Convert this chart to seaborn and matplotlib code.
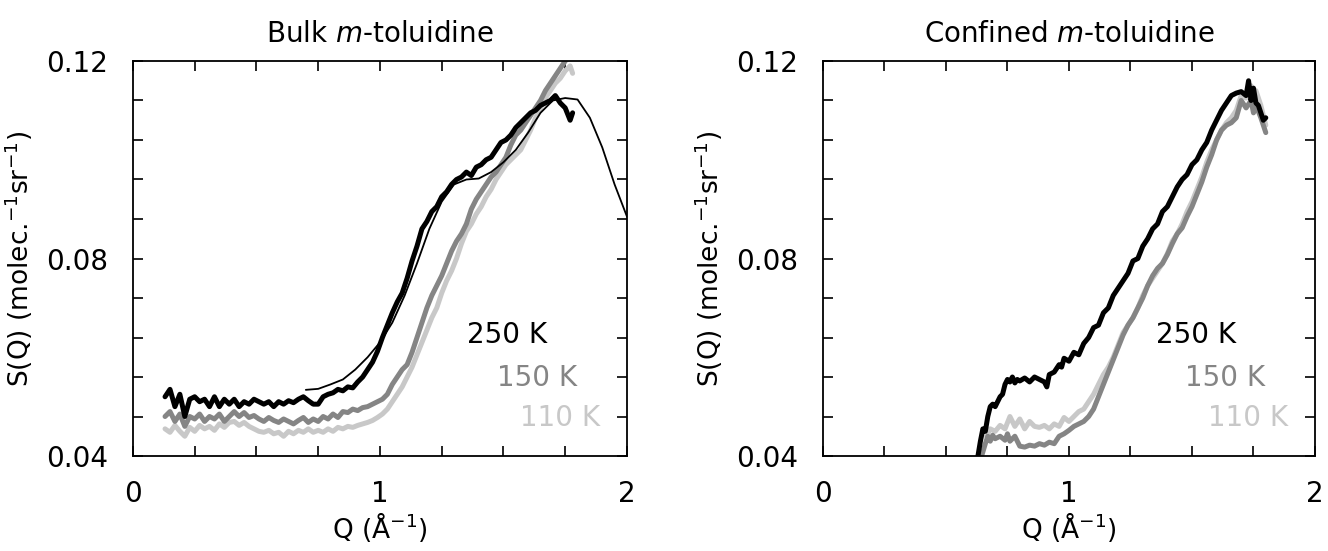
import numpy as np
import pandas as pd
import seaborn as sns
import matplotlib.pyplot as plt
from matplotlib.ticker import MultipleLocator

# ---- Bulk m-toluidine (left) ----
bulk_q_250 = [0.13, 0.15, 0.17, 0.19, 0.21, 0.23, 0.25, 0.27, 0.29, 0.31, 0.33, 0.35, 0.37, 0.39,
              0.41, 0.43, 0.45, 0.47, 0.49, 0.51, 0.53, 0.55, 0.57, 0.59, 0.61, 0.63, 0.65, 0.67,
              0.69, 0.71, 0.73, 0.75, 0.77, 0.79, 0.81, 0.83, 0.85, 0.87, 0.89, 0.91, 0.93, 0.95,
              0.97, 0.99, 1.01, 1.03, 1.05, 1.07, 1.09, 1.11, 1.13, 1.15, 1.17, 1.19, 1.21, 1.23,
              1.25, 1.27, 1.29, 1.31, 1.33, 1.35, 1.37, 1.39, 1.41, 1.43, 1.45, 1.47, 1.49, 1.51,
              1.53, 1.55, 1.57, 1.59, 1.61, 1.63, 1.65, 1.67, 1.69, 1.71, 1.73, 1.75, 1.77, 1.78]
bulk_s_250 = [0.0520, 0.0535, 0.0500, 0.0525, 0.0480, 0.0515, 0.0520, 0.0510, 0.0515, 0.0500,
              0.0520, 0.0500, 0.0515, 0.0505, 0.0515, 0.0500, 0.0510, 0.0505, 0.0515, 0.0510,
              0.0505, 0.0510, 0.0500, 0.0510, 0.0505, 0.0512, 0.0508, 0.0515, 0.0520, 0.0512,
              0.0505, 0.0505, 0.0520, 0.0525, 0.0528, 0.0535, 0.0532, 0.0540, 0.0538, 0.0550,
              0.0560, 0.0575, 0.0590, 0.0612, 0.0640, 0.0665, 0.0690, 0.0712, 0.0730, 0.0760,
              0.0795, 0.0825, 0.0860, 0.0875, 0.0895, 0.0905, 0.0925, 0.0935, 0.0950, 0.0960,
              0.0965, 0.0975, 0.0968, 0.0985, 0.0990, 0.1000, 0.1005, 0.1020, 0.1035, 0.1040,
              0.1050, 0.1065, 0.1075, 0.1085, 0.1095, 0.1100, 0.1110, 0.1115, 0.1120, 0.1130,
              0.1115, 0.1105, 0.1080, 0.1095]

bulk_q_fit = [0.70, 0.75, 0.80, 0.85, 0.90, 0.95, 1.00, 1.05, 1.10, 1.15, 1.20, 1.25, 1.30, 1.35,
              1.40, 1.45, 1.50, 1.55, 1.60, 1.65, 1.70, 1.75, 1.80, 1.85, 1.90, 1.95, 2.00]
bulk_s_fit = [0.0534, 0.0536, 0.0545, 0.0555, 0.0575, 0.0600, 0.0630, 0.0670, 0.0725, 0.0790,
              0.0860, 0.0915, 0.0950, 0.0960, 0.0962, 0.0975, 0.0995, 0.1020, 0.1055, 0.1095,
              0.1120, 0.1125, 0.1122, 0.1085, 0.1025, 0.0950, 0.0885]

bulk_q_150 = bulk_q_250
bulk_s_150 = [0.0480, 0.0490, 0.0470, 0.0485, 0.0460, 0.0480, 0.0475, 0.0485, 0.0470, 0.0480,
              0.0475, 0.0485, 0.0470, 0.0480, 0.0490, 0.0480, 0.0488, 0.0478, 0.0482, 0.0475,
              0.0470, 0.0478, 0.0472, 0.0468, 0.0475, 0.0470, 0.0465, 0.0472, 0.0478, 0.0468,
              0.0475, 0.0470, 0.0480, 0.0475, 0.0485, 0.0478, 0.0490, 0.0488, 0.0495, 0.0492,
              0.0498, 0.0500, 0.0505, 0.0510, 0.0515, 0.0525, 0.0545, 0.0560, 0.0575, 0.0585,
              0.0610, 0.0640, 0.0670, 0.0700, 0.0725, 0.0745, 0.0765, 0.0790, 0.0815, 0.0835,
              0.0850, 0.0870, 0.0900, 0.0920, 0.0935, 0.0950, 0.0965, 0.0975, 0.0990, 0.1005,
              0.1030, 0.1050, 0.1060, 0.1075, 0.1090, 0.1105, 0.1120, 0.1140, 0.1155, 0.1170,
              0.1185, 0.1200, 0.1210, 0.1205]

bulk_q_110 = bulk_q_250
bulk_s_110 = [0.0455, 0.0448, 0.0462, 0.0450, 0.0440, 0.0458, 0.0450, 0.0462, 0.0455, 0.0460,
              0.0452, 0.0465, 0.0458, 0.0468, 0.0470, 0.0462, 0.0468, 0.0460, 0.0455, 0.0450,
              0.0448, 0.0452, 0.0445, 0.0448, 0.0440, 0.0450, 0.0445, 0.0452, 0.0448, 0.0455,
              0.0448, 0.0452, 0.0448, 0.0455, 0.0450, 0.0458, 0.0455, 0.0460, 0.0458, 0.0462,
              0.0465, 0.0468, 0.0472, 0.0478, 0.0485, 0.0495, 0.0510, 0.0525, 0.0540, 0.0560,
              0.0580, 0.0605, 0.0630, 0.0655, 0.0680, 0.0700, 0.0730, 0.0755, 0.0775, 0.0800,
              0.0830, 0.0855, 0.0870, 0.0890, 0.0905, 0.0925, 0.0940, 0.0960, 0.0975, 0.0990,
              0.1000, 0.1010, 0.1020, 0.1040, 0.1060, 0.1085, 0.1105, 0.1125, 0.1140, 0.1155,
              0.1165, 0.1180, 0.1190, 0.1175]

# ---- Confined m-toluidine (right) ----
conf_q_250 = [0.63, 0.64, 0.65, 0.66, 0.67, 0.68, 0.69, 0.70, 0.71, 0.72, 0.73, 0.74, 0.75, 0.76,
              0.77, 0.78, 0.79, 0.80, 0.82, 0.84, 0.86, 0.88, 0.90, 0.91, 0.92, 0.94, 0.96, 0.97,
              0.98, 1.00, 1.02, 1.04, 1.06, 1.08, 1.10, 1.12, 1.14, 1.16, 1.18, 1.20, 1.22, 1.24,
              1.26, 1.28, 1.30, 1.32, 1.34, 1.36, 1.38, 1.40, 1.42, 1.44, 1.46, 1.48, 1.50, 1.52,
              1.54, 1.56, 1.58, 1.60, 1.62, 1.64, 1.66, 1.68, 1.70, 1.72, 1.73, 1.74, 1.75, 1.76,
              1.77, 1.78, 1.79, 1.80]
conf_s_250 = [0.0400, 0.0430, 0.0455, 0.0450, 0.0480, 0.0500, 0.0505, 0.0500, 0.0510, 0.0520,
              0.0525, 0.0545, 0.0555, 0.0550, 0.0560, 0.0548, 0.0555, 0.0552, 0.0558, 0.0550,
              0.0560, 0.0555, 0.0550, 0.0540, 0.0565, 0.0570, 0.0585, 0.0580, 0.0598, 0.0592,
              0.0610, 0.0605, 0.0628, 0.0640, 0.0660, 0.0665, 0.0690, 0.0700, 0.0725, 0.0740,
              0.0755, 0.0770, 0.0795, 0.0800, 0.0825, 0.0840, 0.0860, 0.0870, 0.0895, 0.0905,
              0.0925, 0.0945, 0.0960, 0.0970, 0.0990, 0.1000, 0.1020, 0.1035, 0.1060, 0.1080,
              0.1100, 0.1115, 0.1130, 0.1135, 0.1138, 0.1130, 0.1160, 0.1120, 0.1145, 0.1115,
              0.1110, 0.1095, 0.1080, 0.1085]

conf_q_150 = [0.645, 0.66, 0.67, 0.68, 0.69, 0.70, 0.72, 0.74, 0.75, 0.76, 0.78, 0.80, 0.82, 0.84,
              0.86, 0.88, 0.90, 0.92, 0.94, 0.96, 0.98, 1.00, 1.02, 1.04, 1.06, 1.08, 1.10, 1.12,
              1.14, 1.16, 1.18, 1.20, 1.22, 1.24, 1.26, 1.28, 1.30, 1.32, 1.34, 1.36, 1.38, 1.40,
              1.42, 1.44, 1.46, 1.48, 1.50, 1.52, 1.54, 1.56, 1.58, 1.60, 1.62, 1.64, 1.66, 1.68,
              1.70, 1.72, 1.74, 1.75, 1.76, 1.78, 1.80]
conf_s_150 = [0.0400, 0.0425, 0.0440, 0.0430, 0.0442, 0.0435, 0.0440, 0.0432, 0.0445, 0.0430,
              0.0440, 0.0420, 0.0418, 0.0422, 0.0420, 0.0425, 0.0422, 0.0428, 0.0425, 0.0440,
              0.0445, 0.0452, 0.0460, 0.0465, 0.0470, 0.0480, 0.0495, 0.0520, 0.0545, 0.0570,
              0.0595, 0.0620, 0.0645, 0.0665, 0.0680, 0.0700, 0.0720, 0.0745, 0.0765, 0.0780,
              0.0790, 0.0808, 0.0830, 0.0850, 0.0862, 0.0885, 0.0905, 0.0930, 0.0955, 0.0985,
              0.1010, 0.1040, 0.1060, 0.1070, 0.1075, 0.1085, 0.1120, 0.1105, 0.1120, 0.1095,
              0.1110, 0.1085, 0.1055]

conf_q_110 = [0.665, 0.68, 0.70, 0.72, 0.74, 0.76, 0.78, 0.80, 0.82, 0.84, 0.86, 0.88, 0.90, 0.92,
              0.94, 0.96, 0.98, 1.00, 1.02, 1.04, 1.06, 1.08, 1.10, 1.12, 1.14, 1.16, 1.18, 1.20,
              1.22, 1.24, 1.26, 1.28, 1.30, 1.32, 1.34, 1.36, 1.38, 1.40, 1.42, 1.44, 1.46, 1.48,
              1.50, 1.52, 1.54, 1.56, 1.58, 1.60, 1.62, 1.64, 1.66, 1.68, 1.70, 1.72, 1.74, 1.75,
              1.76, 1.78, 1.80]
conf_s_110 = [0.0440, 0.0455, 0.0450, 0.0462, 0.0455, 0.0480, 0.0460, 0.0475, 0.0455, 0.0470,
              0.0460, 0.0458, 0.0462, 0.0455, 0.0465, 0.0460, 0.0478, 0.0470, 0.0480, 0.0490,
              0.0495, 0.0510, 0.0525, 0.0545, 0.0565, 0.0580, 0.0600, 0.0625, 0.0650, 0.0665,
              0.0680, 0.0700, 0.0725, 0.0745, 0.0760, 0.0775, 0.0790, 0.0810, 0.0835, 0.0850,
              0.0870, 0.0895, 0.0915, 0.0940, 0.0965, 0.0995, 0.1020, 0.1040, 0.1060, 0.1075,
              0.1085, 0.1100, 0.1130, 0.1125, 0.1150, 0.1120, 0.1140, 0.1110, 0.1070]

temps = ['250 K', '150 K', '110 K']
colors = ['#000000', '#858585', '#c8c8c8']
label_pos = [(1.515, 0.0645), (1.636, 0.0558), (1.73, 0.0477)]

sns.set_style('ticks')
plt.rcParams['font.family'] = ['DejaVu Sans']
plt.rcParams['mathtext.fontset'] = 'dejavusans'
plt.rcParams['text.color'] = 'black'
plt.rcParams['axes.labelcolor'] = 'black'
plt.rcParams['xtick.color'] = 'black'
plt.rcParams['ytick.color'] = 'black'

fig = plt.figure(figsize=(13.28, 5.51), dpi=100)
ax1 = fig.add_axes([0.1001, 0.1724, 0.3720, 0.7169])
ax2 = fig.add_axes([0.6197, 0.1724, 0.3705, 0.7169])

bulk = [(bulk_q_110, bulk_s_110), (bulk_q_150, bulk_s_150), (bulk_q_250, bulk_s_250)]
conf = [(conf_q_110, conf_s_110), (conf_q_150, conf_s_150), (conf_q_250, conf_s_250)]
cols = [colors[2], colors[1], colors[0]]

for ax, sets in [(ax1, bulk), (ax2, conf)]:
    for (q, s), c in zip(sets, cols):
        sns.lineplot(x=q, y=s, ax=ax, color=c, lw=3.6, estimator=None, sort=False)

sns.lineplot(x=bulk_q_fit, y=bulk_s_fit, ax=ax1, color='black', lw=1.3, estimator=None, sort=False)

titles = [r'Bulk $\it{m}$-toluidine', r'Confined $\it{m}$-toluidine']
for ax, t in zip([ax1, ax2], titles):
    ax.set_xlim(0, 2)
    ax.set_ylim(0.04, 0.12)
    ax.xaxis.set_major_locator(MultipleLocator(1))
    ax.xaxis.set_minor_locator(MultipleLocator(0.25))
    ax.yaxis.set_major_locator(MultipleLocator(0.04))
    ax.yaxis.set_minor_locator(MultipleLocator(0.008))
    ax.yaxis.set_major_formatter(plt.FuncFormatter(lambda v, p: '%.2f' % v))
    ax.tick_params(which='both', direction='in', length=7, width=1.2,
                   top=True, right=True, labelsize=20, colors='black')
    ax.tick_params(axis='x', pad=17)
    ax.tick_params(axis='y', pad=18)
    for sp in ax.spines.values():
        sp.set_linewidth(1.3)
        sp.set_color('black')
    ax.set_title(t, fontsize=20, pad=14, color='black')
    ax.set_xlabel('Q (Å$^{-1}$)', fontsize=19, labelpad=2)
    ax.set_ylabel('S(Q) (molec.$^{-1}$sr$^{-1}$)', fontsize=19, labelpad=8)
    for txt, c, (x, y) in zip(temps, colors, label_pos):
        ax.text(x, y, txt, color=c, fontsize=20, ha='center', va='center')

fig.savefig('out.png', dpi=100)
